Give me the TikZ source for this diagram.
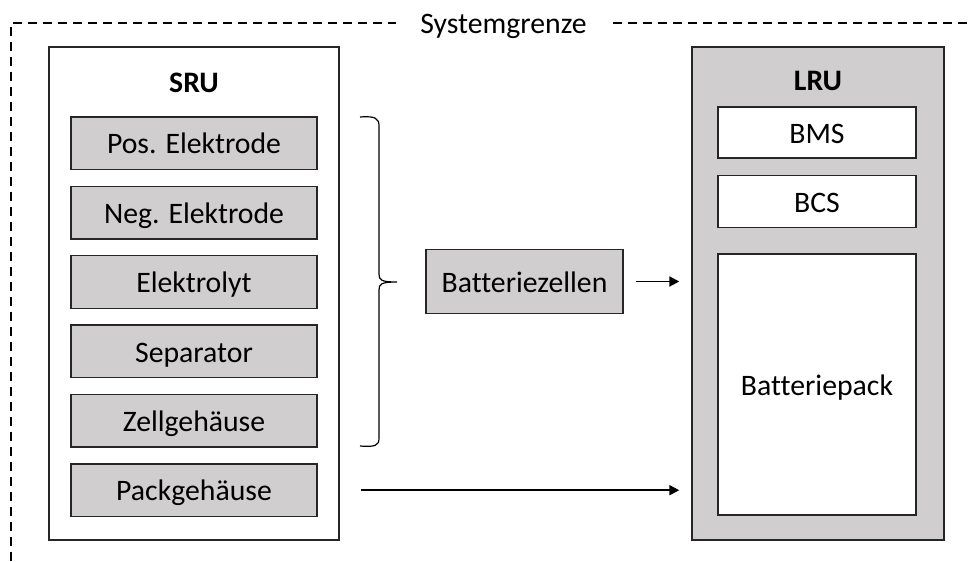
\documentclass[tikz,border=0pt]{standalone}
\usepackage{fontspec}
\setmainfont{Carlito}[Ligatures=NoCommon]
\usetikzlibrary{arrows.meta}
\definecolor{boxgray}{RGB}{208,206,206}
\begin{document}
\begin{tikzpicture}[x=0.75pt,y=-0.75pt,
  font=\fontsize{22.3}{26}\selectfont,
  txt/.style={text height=15.9pt,text depth=0pt},
  frame/.style={draw=black!85,line width=1.05pt,inner sep=0pt},
  part/.style={frame,txt,fill=boxgray,minimum width=184.5pt,minimum height=39.4pt},
  sub/.style={frame,txt,fill=white,minimum width=148.5pt},
  arr/.style={line width=1.4pt,-{Triangle[length=7.5pt,width=7.5pt]}},
  border/.style={line width=0.9pt,dash pattern=on 6.75pt off 4.5pt}]
\useasboundingbox (0,0) rectangle (968,561);

% system boundary
\draw[border] (11,561) -- (11,23) -- (968,23);
\node[txt,fill=white,inner xsep=18pt,inner ysep=2pt] (sg) at (503.5,23) {Systemgrenze};

% SRU column
\node[frame,fill=white,minimum width=217.5pt,minimum height=369.75pt] (sru) at (194,293.5) {};
\node[txt,font=\fontsize{22.3}{26}\selectfont\bfseries] (srut) at (194,82) {SRU};
\node[part] (pos)  at (194,143.3) {Pos. Elektrode};
\node[part] (neg)  at (194,212.7) {Neg. Elektrode};
\node[part] (elyt) at (194,282.0) {Elektrolyt};
\node[part] (sep)  at (194,351.4) {Separator};
\node[part] (zell) at (194,420.8) {Zellgehäuse};
\node[part] (pack) at (194,490.2) {Packgehäuse};

% LRU column
\node[frame,fill=boxgray,minimum width=189pt,minimum height=369.75pt] (lru) at (818,293.5) {};
\node[txt,font=\fontsize{22.3}{26}\selectfont\bfseries] (lrut) at (818,80) {LRU};
\node[sub,minimum height=38.25pt] (bms) at (817,132.5) {BMS};
\node[sub,minimum height=39pt] (bcs) at (817,201.5) {BCS};
\node[sub,minimum height=195.75pt] (bpack) at (817,384.5) {Batteriepack};

% cells
\node[part,minimum width=147.75pt,minimum height=48pt] (cells) at (524.5,281.5) {Batteriezellen};

% brace grouping the cell components
\draw[line width=0.9pt] (360,117) .. controls (375,116) and (379,118) .. (379,126)
  -- (379,274) .. controls (379,280) and (381,282) .. (397,282)
  .. controls (381,282) and (379,284) .. (379,290)
  -- (379,438) .. controls (379,446) and (375,447) .. (360,446);

% connectors
\draw[arr] ([xshift=9pt]cells.east) -- ([xshift=-9pt]lru.west |- cells.east);
\draw[arr] ([xshift=15.75pt]sru.east |- pack.east) -- ([xshift=-9pt]lru.west |- pack.east);
\end{tikzpicture}
\end{document}
